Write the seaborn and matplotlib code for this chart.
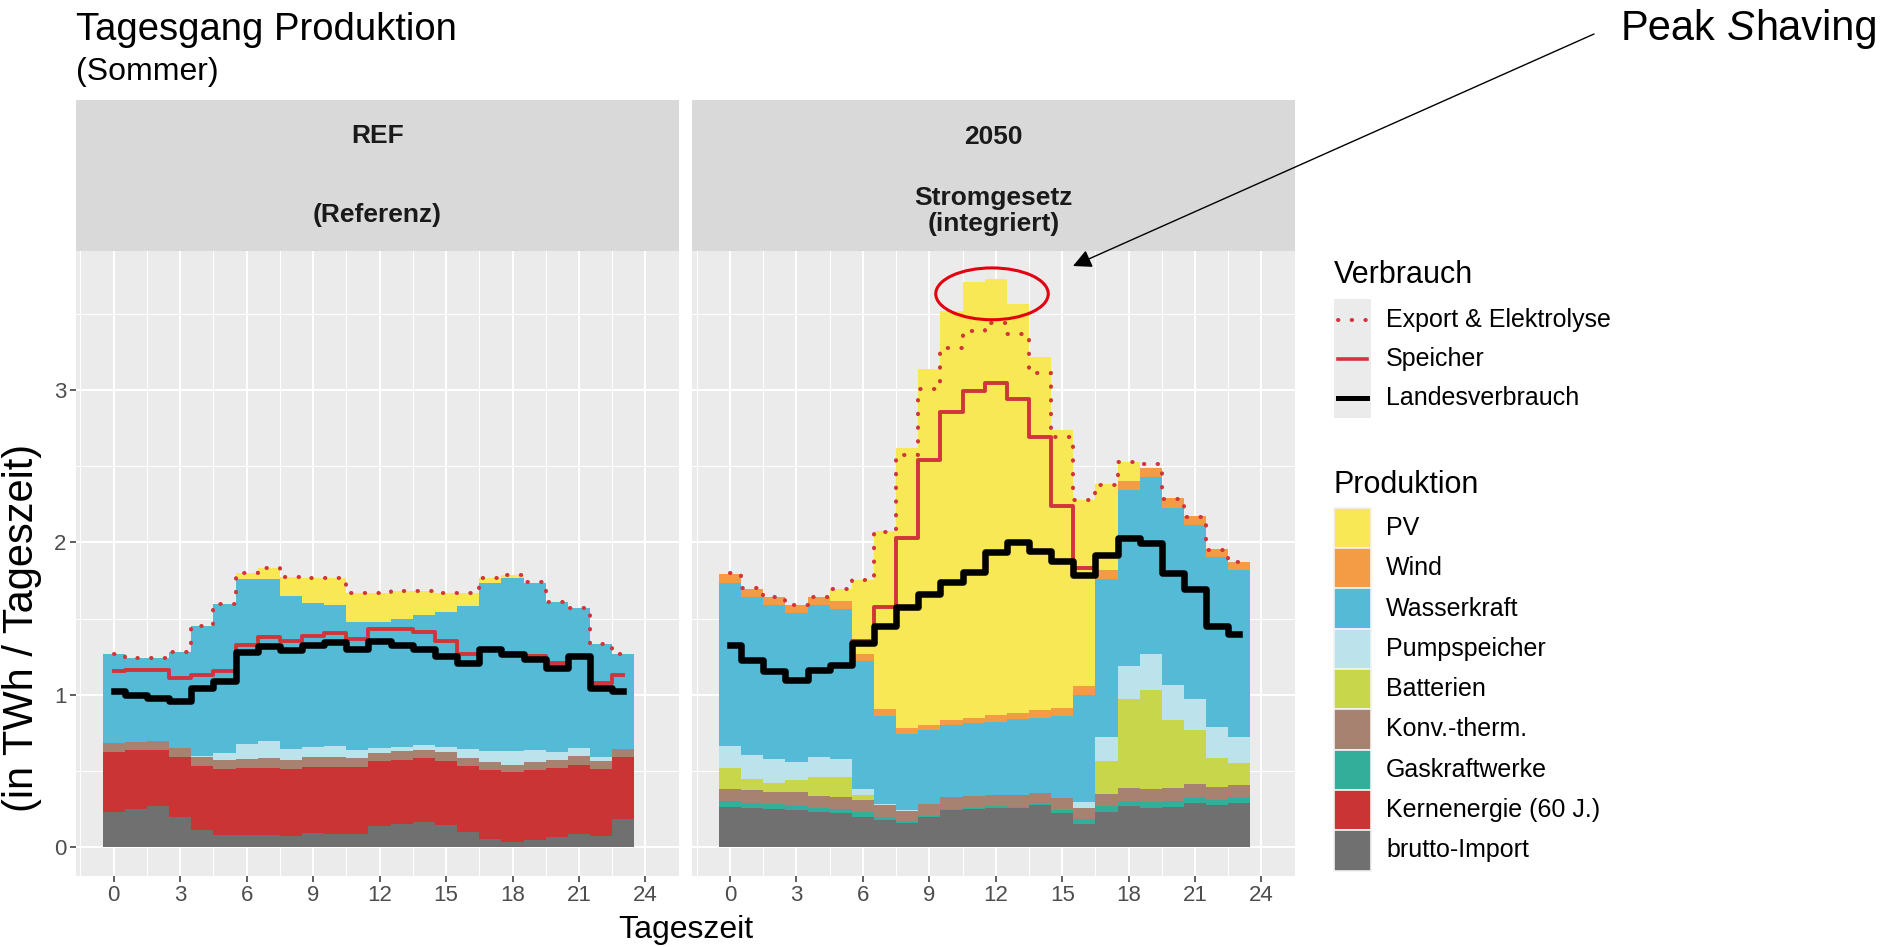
import matplotlib
matplotlib.use("Agg")
import pandas as pd
import matplotlib.pyplot as plt
import seaborn as sns
from matplotlib.patches import Rectangle, Ellipse, FancyArrowPatch
from matplotlib.lines import Line2D

hours = list(range(24))

sources = ["PV", "Wind", "Wasserkraft", "Pumpspeicher", "Batterien",
           "Konv.-therm.", "Gaskraftwerke", "Kernenergie (60 J.)", "brutto-Import"]
source_colors = ["#F8E855", "#F39B45", "#55BAD5", "#BCE2EC", "#C8D64B",
                 "#A88270", "#32AE9A", "#CB3434", "#707070"]

# --- REF (Referenz) ---
ref_import = [.232, .252, .269, .199, .112, .079, .083, .083, .077, .094, .090, .090,
              .138, .155, .164, .144, .101, .057, .035, .050, .068, .090, .077, .186]
ref_kern = [.394, .385, .372, .394, .420, .435, .438, .438, .437, .431, .435, .435,
            .427, .420, .422, .425, .431, .453, .457, .455, .453, .453, .437, .405]
ref_gas = [0] * 24
ref_konv = [.059, .054, .055, .059, .061, .057, .059, .065, .061, .066, .066, .061,
            .054, .055, .055, .055, .054, .050, .051, .053, .050, .054, .051, .055]
ref_batt = [0] * 24
ref_pump = [0, 0, 0, 0, .009, .048, .098, .114, .071, .068, .072, .051,
            .033, .029, .029, .035, .060, .075, .092, .083, .055, .055, .028, 0]
ref_wasser = [.584, .548, .543, .628, .849, .978, 1.083, 1.057, 1.002, .945, .926, .842,
              .827, .840, .857, .884, .936, 1.100, 1.133, 1.094, .982, .919, .742, .619]
ref_wind = [0] * 24
ref_pv = [0, 0, 0, 0, 0, 0, .035, .077, .127, .164, .179, .191,
          .191, .181, .153, .122, .083, .033, .015, 0, 0, 0, 0, 0]

ref_export = [1.269, 1.239, 1.239, 1.280, 1.451, 1.597, 1.796, 1.834, 1.775, 1.768, 1.768, 1.670,
              1.670, 1.680, 1.680, 1.665, 1.665, 1.768, 1.783, 1.740, 1.608, 1.571, 1.335, 1.265]
ref_speicher = [1.155, 1.162, 1.166, 1.112, 1.127, 1.155, 1.330, 1.379, 1.352, 1.389, 1.407, 1.368,
                1.429, 1.429, 1.411, 1.352, 1.271, 1.302, 1.276, 1.254, 1.206, 1.258, 1.079, 1.133]
ref_land = [1.024, 1.002, .980, .963, 1.046, 1.090, 1.280, 1.319, 1.293, 1.326, 1.346, 1.304,
            1.352, 1.326, 1.304, 1.254, 1.210, 1.298, 1.271, 1.236, 1.177, 1.254, 1.042, 1.028]

# --- 2050 Stromgesetz (integriert) ---
s50_import = [.266, .259, .251, .244, .229, .222, .200, .179, .159, .200, .244, .251,
              .261, .261, .277, .224, .153, .235, .268, .261, .266, .294, .277, .288]
s50_kern = [0] * 24
s50_gas = [.035, .035, .032, .035, .026, .029, .029, .017, .011, .005, .007, .005,
           .007, .005, .006, .020, .032, .033, .037, .037, .039, .039, .035, .039]
s50_konv = [.080, .081, .083, .087, .083, .080, .080, .081, .070, .079, .076, .080,
            .076, .077, .072, .078, .076, .081, .083, .083, .081, .081, .085, .080]
s50_batt = [.138, .076, .059, .074, .124, .131, .035, 0, 0, 0, 0, 0,
            0, 0, 0, 0, 0, .217, .588, .650, .446, .353, .187, .149]
s50_pump = [.145, .152, .152, .122, .131, .115, .037, .006, .004, 0, 0, 0,
            0, 0, 0, 0, .037, .157, .216, .237, .231, .209, .207, .167]
s50_wasser = [1.072, 1.038, 1.013, .978, .997, .985, .839, .578, .501, .484, .475, .479,
              .477, .496, .495, .539, .698, 1.037, 1.153, 1.158, 1.162, 1.137, 1.111, 1.096]
s50_wind = [.057, .054, .055, .050, .055, .055, .050, .047, .039, .037, .032, .033,
            .044, .044, .050, .054, .065, .059, .059, .065, .063, .062, .052, .055]
s50_pv = [0, 0, 0, 0, 0, .076, .484, 1.168, 1.832, 2.335, 2.686, 2.860,
          2.860, 2.683, 2.316, 1.821, 1.218, .563, .120, 0, 0, 0, 0, 0]

s50_export = [1.797, 1.699, 1.645, 1.590, 1.645, 1.695, 1.754, 2.070, 2.572, 3.004, 3.275, 3.386,
              3.437, 3.365, 3.109, 2.688, 2.279, 2.378, 2.524, 2.513, 2.284, 2.168, 1.950, 1.874]
s50_speicher = [1.325, 1.231, 1.155, 1.100, 1.166, 1.194, 1.351, 1.573, 2.030, 2.541, 2.852, 2.993,
                3.044, 2.939, 2.688, 2.240, 1.830, 1.917, 2.026, 1.993, 1.797, 1.693, 1.453, 1.399]
s50_land = [1.325, 1.231, 1.155, 1.100, 1.166, 1.194, 1.340, 1.449, 1.575, 1.662, 1.743, 1.808,
            1.939, 2.000, 1.946, 1.880, 1.786, 1.917, 2.026, 1.993, 1.797, 1.693, 1.453, 1.399]

W, H = 1893, 947
plt.rcParams['font.family'] = ['Liberation Sans', 'DejaVu Sans']

fig = plt.figure(figsize=(W / 100, H / 100), dpi=100)


def fx(x):
    return x / W


def fy(y):
    return 1 - y / H


top_px, bot_px = 251, 875.7
panels = [(76, 678.7), (692.4, 1294.7)]
axes = [fig.add_axes([fx(l), fy(bot_px), (r - l) / W, (bot_px - top_px) / H]) for l, r in panels]

panel_data = [
    ([ref_pv, ref_wind, ref_wasser, ref_pump, ref_batt, ref_konv, ref_gas, ref_kern, ref_import],
     ref_export, ref_speicher, ref_land),
    ([s50_pv, s50_wind, s50_wasser, s50_pump, s50_batt, s50_konv, s50_gas, s50_kern, s50_import],
     s50_export, s50_speicher, s50_land),
]

red = "#D1343A"
dots = (0, (0.1, 3.3))
for i, (ax, (stack, export, speicher, land)) in enumerate(zip(axes, panel_data)):
    rows = []
    for name, vals in zip(sources, stack):
        for h, v in zip(hours, vals):
            rows.append({"hour": h, "source": name, "value": v})
    df = pd.DataFrame(rows)
    ax.set_facecolor("#EBEBEB")
    sns.histplot(data=df, x="hour", weights="value", hue="source", hue_order=sources,
                 palette=source_colors, multiple="stack", discrete=True, shrink=1,
                 alpha=1, linewidth=0, antialiased=False, legend=False, ax=ax)
    sns.lineplot(x=hours, y=export, drawstyle="steps-mid", color=red, lw=2.9,
                 linestyle=dots, dash_capstyle="round", ax=ax)
    sns.lineplot(x=hours, y=speicher, drawstyle="steps-mid", color=red, lw=2.8, ax=ax)
    sns.lineplot(x=hours, y=land, drawstyle="steps-mid", color="black", lw=4.7, ax=ax)

    ax.set_xlim(-1.7, 24.7)
    ax.set_ylim(-0.186, 3.911)
    ax.set_xticks(range(0, 25, 3))
    ax.set_xticks([x + 1.5 for x in range(-3, 25, 3)], minor=True)
    ax.set_yticks([0, 1, 2, 3])
    ax.set_yticks([0.5, 1.5, 2.5, 3.5], minor=True)
    ax.grid(which="major", color="white", lw=1.5)
    ax.grid(which="minor", color="white", lw=0.75)
    ax.set_axisbelow(True)
    for s in ax.spines.values():
        s.set_visible(False)
    ax.tick_params(which="major", length=4, width=1.1, color="#333333",
                   labelsize=16, labelcolor="#4D4D4D", pad=3)
    ax.tick_params(which="minor", length=0)
    ax.set_xlabel("")
    ax.set_ylabel("")
    if i == 1:
        ax.tick_params(axis="y", left=False, labelleft=False)

# facet strips
for (l, r) in panels:
    fig.add_artist(Rectangle((fx(l), fy(top_px)), (r - l) / W, (top_px - 100) / H,
                             transform=fig.transFigure, facecolor="#D9D9D9", edgecolor="none"))
strip_kw = dict(ha="center", va="center", fontsize=19, fontweight="bold", color="#1A1A1A")
cl = (panels[0][0] + panels[0][1]) / 2
cr = (panels[1][0] + panels[1][1]) / 2
fig.text(fx(cl), fy(136), "REF", **strip_kw)
fig.text(fx(cl), fy(215), "(Referenz)", **strip_kw)
fig.text(fx(cr), fy(137), "2050", **strip_kw)
fig.text(fx(cr), fy(198), "Stromgesetz", **strip_kw)
fig.text(fx(cr), fy(224), "(integriert)", **strip_kw)

# titles and axis titles
fig.text(fx(76), fy(40), "Tagesgang Produktion", fontsize=27.5, va="baseline", ha="left")
fig.text(fx(76), fy(72), "(Sommer)", fontsize=23, va="center", ha="left")
fig.text(fx(686), fy(930), "Tageszeit", fontsize=23, ha="center", va="center")
fig.text(fx(22), fy(628), "(in TWh / Tageszeit)", fontsize=30, rotation=90,
         ha="center", va="center")

# legend: Verbrauch
fig.text(fx(1334), fy(275), "Verbrauch", fontsize=22, ha="left", va="center")
fig.add_artist(Rectangle((fx(1334), fy(418)), 37 / W, 119 / H, transform=fig.transFigure,
                         facecolor="#EBEBEB", edgecolor="none"))
leg_lines = [("Export & Elektrolyse", dict(color=red, lw=2.9, linestyle=dots,
                                           dash_capstyle="round")),
             ("Speicher", dict(color=red, lw=2.6)),
             ("Landesverbrauch", dict(color="black", lw=3.6))]
for k, (lab, kw) in enumerate(leg_lines):
    y = 320 + k * 39
    fig.add_artist(Line2D([fx(1338), fx(1367)], [fy(y), fy(y)], transform=fig.transFigure, **kw))
    fig.text(fx(1386), fy(y), lab, fontsize=18, ha="left", va="center")

# legend: Produktion
fig.text(fx(1334), fy(485), "Produktion", fontsize=22, ha="left", va="center")
for k, (lab, col) in enumerate(zip(sources, source_colors)):
    y = 528 + k * 40.3
    fig.add_artist(Rectangle((fx(1334), fy(y + 20.15)), 37 / W, 40.3 / H,
                             transform=fig.transFigure, facecolor=col,
                             edgecolor="#F2F2F2", lw=1.2))
    fig.text(fx(1386), fy(y), lab, fontsize=18, ha="left", va="center")

# peak shaving annotation
axr = axes[1]
axr.add_patch(Ellipse((11.83, 3.63), 5.08, 0.34, fill=False, edgecolor="#E3000F",
                      lw=2.2, clip_on=False, zorder=10))
fig.add_artist(FancyArrowPatch((fx(1594), fy(34)), (fx(1073), fy(266)),
                               transform=fig.transFigure, arrowstyle="-|>",
                               mutation_scale=28, lw=1.0, color="black",
                               shrinkA=0, shrinkB=0, zorder=10))
t1 = fig.text(fx(1621), fy(40), "Peak", fontsize=30, va="baseline", ha="left")
t2 = axr.annotate("S", xy=(1, 0), xycoords=t1, xytext=(8.3, 0), textcoords="offset points",
                  fontsize=30, fontstyle="italic", va="bottom", ha="left",
                  annotation_clip=False)
axr.annotate("having", xy=(1, 0), xycoords=t2, fontsize=30, va="bottom", ha="left",
             annotation_clip=False)

fig.savefig("out.png", dpi=100)
